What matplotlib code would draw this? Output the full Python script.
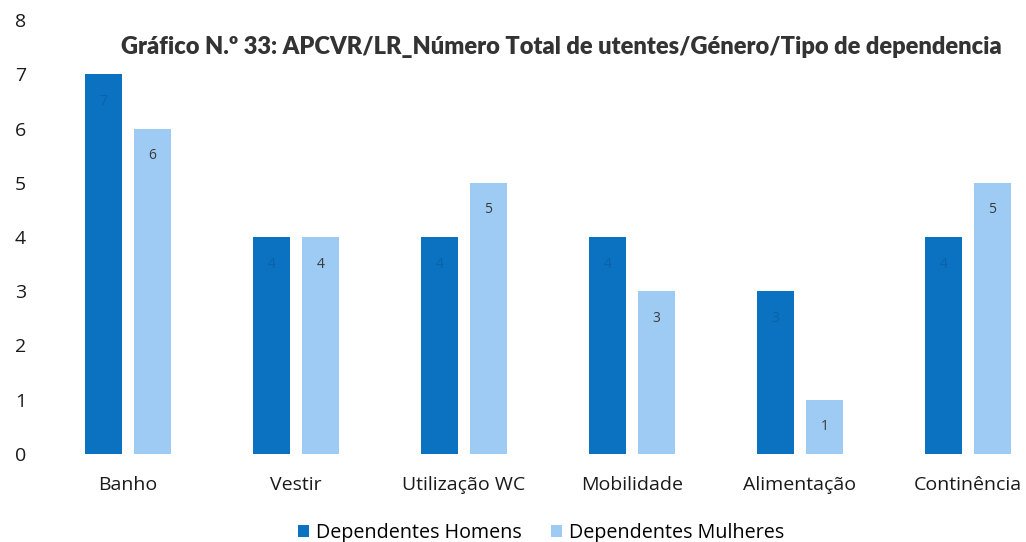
import numpy as np
import matplotlib
matplotlib.use("Agg")
import matplotlib.pyplot as plt

plt.rcParams['font.family'] = ['Open Sans', 'DejaVu Sans']

# Dependency type by gender
categories = ['Banho', 'Vestir', 'Utilização WC', 'Mobilidade', 'Alimentação', 'Continência']
homens = [7, 4, 4, 4, 3, 4]
mulheres = [6, 4, 5, 3, 1, 5]
series_names = ['Dependentes Homens', 'Dependentes Mulheres']
title = 'Gráfico N.º 33: APCVR/LR_Número Total de utentes/Género/Tipo de dependencia'

dark_blue = '#0b72c2'
light_blue = '#9ecbf3'

W, H = 1026, 542
fig = plt.figure(figsize=(W / 100, H / 100), dpi=100)
ax = fig.add_axes([44 / W, 1 - 454 / H, (W - 44) / W, (454 - 20) / H])

x = np.arange(len(categories))
width = 0.22
offset = 0.145
b1 = ax.bar(x - offset, homens, width, color=dark_blue, label=series_names[0])
b2 = ax.bar(x + offset, mulheres, width, color=light_blue, label=series_names[1])

# value labels sit just below the top of each bar
for xi, v in zip(x, homens):
    ax.text(xi - offset, v - 0.5, str(v), ha='center', va='center',
            fontsize=10, color='#0c62a6')
for xi, v in zip(x, mulheres):
    ax.text(xi + offset, v - 0.5, str(v), ha='center', va='center',
            fontsize=10, color='#3a3a3a')

ax.set_xlim(-0.5, 5.345)
ax.set_ylim(0, 8)
ax.set_yticks(range(0, 9))
ax.set_xticks(x)
ax.set_xticklabels(categories)
ax.tick_params(axis='both', length=0, labelsize=14, colors='#1a1a1a')
ax.tick_params(axis='y', pad=13)
ax.tick_params(axis='x', pad=16)
for s in ax.spines.values():
    s.set_visible(False)

fig.text(561 / W, 1 - 47 / H, title, ha='center', va='center',
         fontsize=17, fontweight='heavy', color='#333333',
         family=['Lato', 'DejaVu Sans'])

fig.legend(handles=[b1, b2], labels=series_names, loc='center',
           bbox_to_anchor=(541 / W, 1 - 533 / H), ncol=2, frameon=False,
           fontsize=14.2, handlelength=0.55, handleheight=0.55,
           handletextpad=0.35, columnspacing=1.5)

fig.savefig('out.png', dpi=100, facecolor='white')
